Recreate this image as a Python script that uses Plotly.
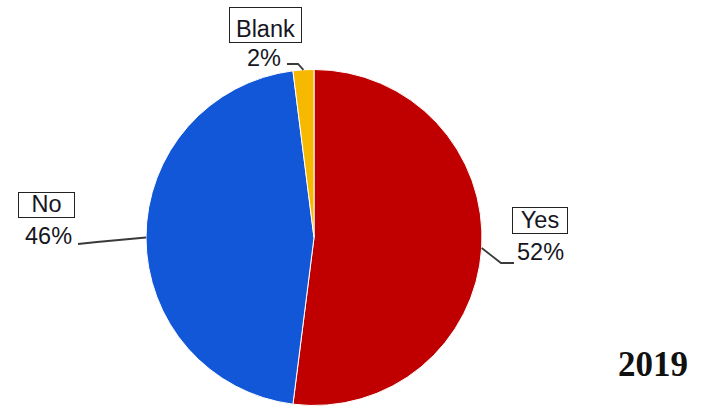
import math
import plotly.graph_objects as go

# Survey answers
categories = ["Yes", "No", "Blank"]
shares = [52, 46, 2]
colors = ["#C00000", "#1257D8", "#F7B800"]
year_label = "2019"

W, H = 705, 407
CX, CY, R = 314, 237.5, 168  # pie centre and radius in pixels


def px(x):
    return x / W


def py(y):
    return 1 - y / H


fig = go.Figure(
    go.Pie(
        labels=categories,
        values=shares,
        sort=False,
        direction="clockwise",
        rotation=0,
        marker=dict(colors=colors, line=dict(color="white", width=1)),
        textinfo="none",
        hoverinfo="label+percent",
        showlegend=False,
        domain=dict(x=[px(CX - R), px(CX + R)], y=[py(CY + R), py(CY - R)]),
    )
)

# label layout: box centre, box size, percentage centre, leader elbow, leader end
label_layout = {
    "Yes": dict(box=(540, 220.5), size=(56, 27), pct=(540, 252), elbow=(501, 263), end=(514, 263)),
    "No": dict(box=(46.5, 205), size=(57, 26), pct=(48, 236), elbow=(97, 242), end=(78, 244)),
    "Blank": dict(box=(265.5, 25), size=(73, 36), pct=(264, 58), elbow=(298, 64), end=(287, 64)),
}

total = sum(shares)
start = 0.0
shapes = []
annotations = []
font = dict(family="Liberation Sans, Arial, sans-serif", size=23.5, color="#161622")
for cat, val in zip(categories, shares):
    sweep = 360.0 * val / total
    mid = math.radians(start + sweep / 2)
    start += sweep
    ex = CX + R * math.sin(mid)
    ey = CY - R * math.cos(mid)
    lay = label_layout[cat]
    (bx, by), (bw, bh) = lay["box"], lay["size"]
    annotations.append(
        dict(
            x=px(bx), y=py(by), xref="paper", yref="paper",
            text=cat, showarrow=False, font=font,
            width=bw - 2, height=bh - 2, borderpad=0,
            bordercolor="#222222", borderwidth=1, bgcolor="white",
            xanchor="center", yanchor="middle", valign="bottom",
        )
    )
    annotations.append(
        dict(
            x=px(lay["pct"][0]), y=py(lay["pct"][1]), xref="paper", yref="paper",
            text=f"{val}%", showarrow=False, font=font,
            xanchor="center", yanchor="middle",
        )
    )
    (mx, my), (tx, ty) = lay["elbow"], lay["end"]
    path = f"M {px(ex)} {py(ey)} L {px(mx)} {py(my)} L {px(tx)} {py(ty)}"
    shapes.append(dict(type="path", xref="paper", yref="paper", path=path,
                       line=dict(color="#3a3a3a", width=1.8)))

annotations.append(
    dict(
        x=px(653), y=py(364), xref="paper", yref="paper",
        text=f"<b>{year_label}</b>", showarrow=False,
        font=dict(family="Liberation Serif, Times New Roman, serif", size=35, color="#111111"),
        xanchor="center", yanchor="middle",
    )
)

fig.update_layout(
    width=W, height=H,
    margin=dict(l=0, r=0, t=0, b=0),
    paper_bgcolor="white", plot_bgcolor="white",
    shapes=shapes, annotations=annotations,
)

fig.write_html("out.html")
